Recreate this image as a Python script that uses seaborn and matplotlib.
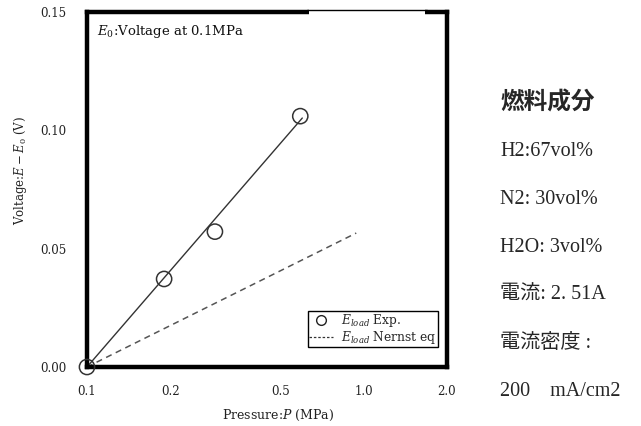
import matplotlib
matplotlib.use("Agg")
import matplotlib.pyplot as plt
import seaborn as sns
import pandas as pd
from matplotlib.lines import Line2D
from matplotlib.patches import Rectangle
from matplotlib.ticker import FixedLocator, NullFormatter

# ---- data ----
exp_pressure = [0.1, 0.19, 0.29, 0.59]
exp_voltage = [0.0, 0.0372, 0.0572, 0.106]
fit_pressure = [0.1, 0.6]
fit_voltage = [0.0, 0.1052]
nernst_pressure = [0.1, 0.94]
nernst_voltage = [0.0, 0.0566]
x_ticks = [0.1, 0.2, 0.5, 1.0, 2.0]
x_tick_labels = ["0.1", "0.2", "0.5", "1.0", "2.0"]
y_ticks = [0.0, 0.05, 0.10, 0.15]
y_tick_labels = ["0.00", "0.05", "0.10", "0.15"]
side_title = "燃料成分"
side_lines = ["H2:67vol%", "N2: 30vol%", "H2O: 3vol%", "電流: 2. 51A", "電流密度 :", "200    mA/cm2"]

sns.set_theme(style="white")
plt.rcParams["font.family"] = ["DejaVu Serif", "Noto Sans CJK JP"]
plt.rcParams["mathtext.fontset"] = "dejavuserif"

exp_df = pd.DataFrame({"P": exp_pressure, "V": exp_voltage})
fit_df = pd.DataFrame({"P": fit_pressure, "V": fit_voltage})
ner_df = pd.DataFrame({"P": nernst_pressure, "V": nernst_voltage})

fig = plt.figure(figsize=(6.41, 4.26), dpi=100)
ax = fig.add_axes([0.1357, 0.1385, 0.5616, 0.8333])
ax.set_xscale("log")

sns.lineplot(data=fit_df, x="P", y="V", ax=ax, color="#333333", linewidth=1.0)
sns.lineplot(data=ner_df, x="P", y="V", ax=ax, color="#555555", linewidth=1.1,
             dashes=False, linestyle=(0, (4, 3)))
sns.scatterplot(data=exp_df, x="P", y="V", ax=ax, marker="o", s=120,
                facecolor="none", edgecolor="#333333", linewidth=1.1, zorder=5)
for coll in ax.collections:
    coll.set_clip_on(False)

ax.set_xlim(0.1, 2.0)
ax.set_ylim(0.0, 0.15)
ax.set_xticks(x_ticks)
ax.set_xticklabels(x_tick_labels)
ax.xaxis.set_minor_locator(FixedLocator([1.0]))
ax.xaxis.set_minor_formatter(NullFormatter())
ax.set_yticks(y_ticks)
ax.set_yticklabels(y_tick_labels)
ax.tick_params(axis="x", which="major", length=0, pad=13, labelsize=8.5, colors="#222222")
ax.tick_params(axis="x", which="minor", direction="in", length=8, width=1, color="#333333")
ax.tick_params(axis="y", which="major", length=0, pad=15, labelsize=8.5, colors="#222222")

for sp in ax.spines.values():
    sp.set_color("black")
    sp.set_linewidth(3.2)
    sp.set_visible(True)

# thin gap in the top frame, as in the source figure
ax.add_patch(Rectangle((0.617, 0.99), 0.322, 0.03, transform=ax.transAxes,
                       facecolor="white", edgecolor="none", clip_on=False, zorder=10))
ax.plot([0.612, 0.944], [1.006, 1.006], transform=ax.transAxes, color="black",
        linewidth=1.0, clip_on=False, zorder=11)

ax.set_xlabel("Pressure:$P$ (MPa)", fontsize=9, labelpad=8, color="#222222")
ax.xaxis.set_label_coords(0.53, -0.115)
ax.set_ylabel("Voltage:$E-E_{\\mathit{0}}$ (V)", fontsize=8.5, color="#222222")
ax.yaxis.set_label_coords(-0.16, 0.555)

ax.text(0.027, 0.945, "$E_{\\mathit{0}}$:Voltage at 0.1MPa", transform=ax.transAxes,
        fontsize=9.5, va="center", ha="left", color="#111111")

handles = [
    Line2D([], [], marker="o", linestyle="none", markerfacecolor="none",
           markeredgecolor="#222222", markersize=7, markeredgewidth=1.0),
    Line2D([], [], color="#333333", linestyle=(0, (2, 1.5)), linewidth=0.9),
]
leg = ax.legend(handles, ["$E_{load}$ Exp.", "$E_{load}$ Nernst eq"],
                loc="lower right", bbox_to_anchor=(0.975, 0.055), fontsize=8.8,
                frameon=True, fancybox=False, framealpha=1, edgecolor="black",
                handlelength=1.9, handletextpad=0.7, borderpad=0.1, labelspacing=0.0,
                borderaxespad=0)
leg.get_frame().set_linewidth(1.0)

# side annotation
x0 = 500 / 641
fig.text(x0, 1 - 103 / 426, side_title, fontsize=17, fontweight="bold",
         family=["Noto Sans CJK JP"], va="center", ha="left")
ys = [152, 199, 247, 295, 343, 391]
for yy, line in zip(ys, side_lines):
    fig.text(x0, 1 - yy / 426, line, fontsize=14.5,
             family=["Liberation Serif", "Noto Sans CJK JP"], va="center", ha="left")

fig.savefig("out.png", dpi=100)
